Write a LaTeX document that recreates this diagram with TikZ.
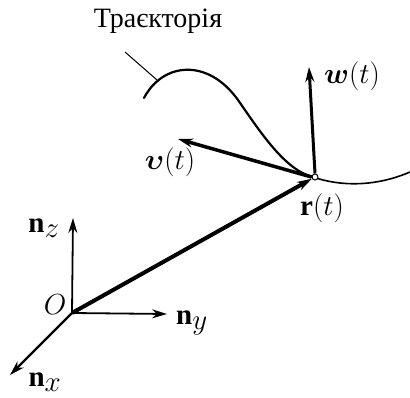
\RequirePackage{fix-cm}
\documentclass[tikz,border=0pt]{standalone}
\usepackage{amsmath,bm}
\usepackage{fontspec}
\setmainfont{Liberation Serif}
\usetikzlibrary{arrows.meta}
\tikzset{
  vec/.style={line width=#1, -{Stealth[length=15pt,width=9pt,inset=5pt]}},
  lbl/.style={inner sep=0pt, font=\fontsize{29}{32}\selectfont},
}
\begin{document}
\begin{tikzpicture}[x=1pt,y=-1pt]
\useasboundingbox (0,0) rectangle (410,398);
% trajectory
\draw[line width=2.2pt, line cap=round] (144,98) .. controls (163,62) and (208,58) .. (238,100)
  .. controls (261,133) and (285,170) .. (313,177);
\draw[line width=1.6pt] (313,177) .. controls (345,188) and (380,185) .. (410,172);
% label and leader
\node[inner sep=0pt, anchor=base, font=\fontsize{28}{30}\selectfont] (traj) at (158,28) {Траєкторія};
\coordinate (lead1) at (125,52);
\coordinate (lead2) at (157,80);
\draw[line width=1pt] (lead1) -- (lead2);
% points
\coordinate (O) at (72,313);
\node[circle, draw, fill=white, line width=1pt, inner sep=0pt, minimum size=6pt] (P) at (315,177) {};
\coordinate (Zt) at (73,218);
\coordinate (Yt) at (167,314);
\coordinate (Xt) at (10,375);
\coordinate (Wt) at (309,67);
\coordinate (Vt) at (178,139);
% axes
\draw[vec=1.8pt] (O) -- (Zt);
\draw[vec=1.8pt] (O) -- (Yt);
\draw[vec=2.2pt] (O) -- (Xt);
% vectors
\draw[vec=4pt] (O) -- (P);
\draw[vec=3pt] (P.north) -- (Wt);
\draw[vec=3.5pt] (P.west) -- (Vt);
% labels
\node[lbl] (lz) at (44,228) {$\mathbf{n}_{\textstyle z}$};
\node[lbl] (ly) at (192,323) {$\mathbf{n}_{\textstyle y}$};
\node[lbl] (lx) at (45,382) {$\mathbf{n}_{\textstyle x}$};
\node[lbl] (lO) at (55,305) {$O$};
\node[lbl] (lw) at (352,76) {$\bm{w}(t)$};
\node[lbl] (lv) at (170,162) {$\bm{\upsilon}(t)$};
\node[lbl] (lr) at (322,208) {$\mathbf{r}(t)$};
\end{tikzpicture}
\end{document}
